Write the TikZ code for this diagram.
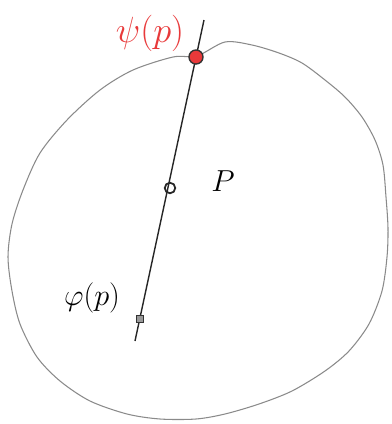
\documentclass[tikz,border=0pt]{standalone}
\usepackage{amsmath,amssymb}
\usepackage{tikz}
\usetikzlibrary{positioning,calc}
\definecolor{pencil}{HTML}{8A8A8A}
\definecolor{inkred}{HTML}{E8393A}

\begin{document}
\begin{tikzpicture}[x=0.02cm, y=-0.02cm,
    outline/.style={draw=pencil, line width=0.6pt},
    ray/.style={draw=black!85, line width=0.8pt},
    tag/.style={inner sep=1pt}]
    \useasboundingbox (0,0) rectangle (392,424);

    % Outline of the region
    \draw[outline] plot[smooth cycle, tension=0.5] coordinates {
      (197,56) (225,42) (252,45) (279,53) (302,63) (325,80) (345,97)
      (362,117) (375,140) (383,165) (386,197) (388,228) (387,257)
      (382,291) (369,324) (349,351) (325,371) (292,391) (259,404)
      (225,414) (196,419) (160,419) (127,414) (90,401) (60,381)
      (37,357) (20,324) (12,291) (8,257) (12,224) (23,190) (40,153)
      (67,120) (100,90) (133,70) (173,57)};

    % Line through the points
    \coordinate (top) at (204,20);
    \coordinate (bottom) at (135,341);
    \draw[ray] (top) -- (bottom);

    % psi(p) on the boundary
    \node[circle, draw=black!80, fill=inkred, line width=0.8pt, minimum size=8pt, inner sep=0pt] (psi) at (196,57) {};
    \node[tag, text=inkred, font=\fontsize{20}{24}\selectfont] (psilabel) at (150,33) {$\psi(p)$};

    % p in the middle
    \node[circle, draw=black!85, line width=1pt, minimum size=6pt, inner sep=0pt] (pt) at (170,188) {};
    \node[tag, font=\fontsize{16}{19}\selectfont] (plabel) at (223,181) {$P$};

    % phi(p) below
    \node[rectangle, draw=black!80, fill=black!40, line width=0.6pt, minimum size=4pt, inner sep=0pt] (phi) at (140,319) {};
    \node[tag, font=\fontsize{17}{20}\selectfont] (philabel) at (92,298) {$\varphi(p)$};
  \end{tikzpicture}
\end{document}
